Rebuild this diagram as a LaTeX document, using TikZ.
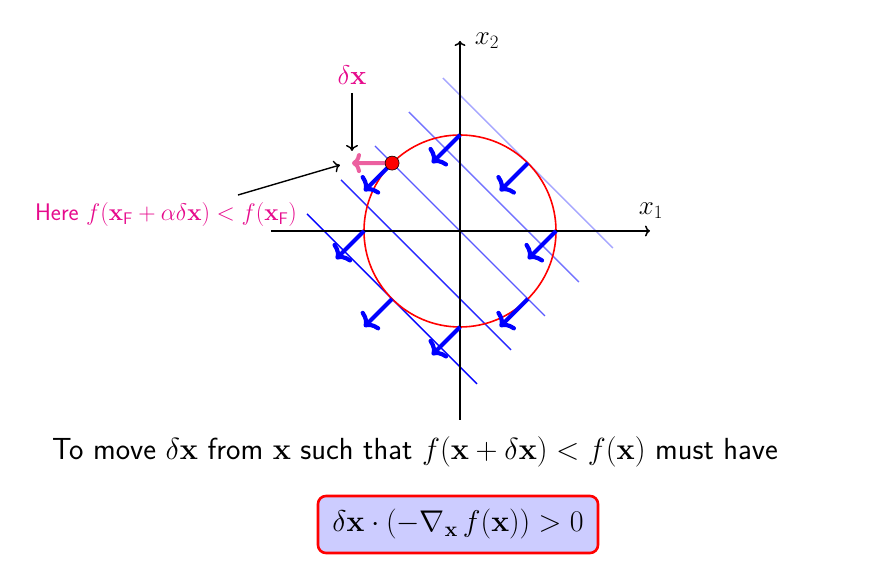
\RequirePackage{fix-cm}
\documentclass[tikz,border=0pt]{standalone}
\usepackage{amsmath}
\usetikzlibrary{arrows.meta,calc}
\definecolor{labmag}{RGB}{230,10,140}
\definecolor{dxpink}{RGB}{236,96,160}
\begin{document}
\begin{tikzpicture}[x=1pt,y=1pt,
  axisline/.style={line width=1.5pt,black,-{To[length=5pt,width=11pt]}},
  level/.style={line width=1.4pt},
  grad/.style={line width=4.2pt,blue,-{To[length=11pt,width=26pt]}},
  pointer/.style={line width=1.4pt,black,-{To[length=6pt,width=12pt]}},
  mainfont/.style={font=\fontsize{30.5}{36}\selectfont\sffamily},
  labfont/.style={font=\fontsize{24}{28}\selectfont\sffamily},
]
\useasboundingbox (-460,-333) rectangle (429,231);
% level lines
\foreach \i/\c/\col in {1/135.8/blue!35, 2/67.9/blue!55, 3/0/blue!65, 4/-67.9/blue!85, 5/-135.8/blue}{
  \coordinate (la\i) at ({\c/2-85},{\c/2+85});
  \coordinate (lb\i) at ({\c/2+85},{\c/2-85});
  \draw[level,\col] (la\i) -- (lb\i);
}
% circle
\node[circle,draw=red,line width=1.6pt,minimum size=192pt,inner sep=0pt] (circ) at (0,0) {};
% axes
\coordinate (xs) at (-189,0); \coordinate (xe) at (190,0);
\coordinate (ys) at (0,-189); \coordinate (ye) at (0,190);
\draw[axisline] (xs) -- (xe);
\draw[axisline] (ys) -- (ye);
\node[font=\fontsize{27}{32}\selectfont] (x1) at (191,20) {$x_1$};
\node[font=\fontsize{27}{32}\selectfont] (x2) at (27,190) {$x_2$};
% gradient arrows
\foreach \a in {0,45,...,315}{
  \coordinate (gs\a) at (\a:96);
  \coordinate (ge\a) at ($(gs\a)+(-28,-28)$);
}
\foreach \a in {0,45,...,315}{
  \draw[grad] (gs\a) -- (ge\a);
}
% delta x arrow
\coordinate (dxend) at (-108,67.9);
\draw[line width=4pt,dxpink,-{To[length=9pt,width=20pt]}] (gs135) -- (dxend);
\node[circle,fill=red,draw=black,line width=0.6pt,minimum size=14pt,inner sep=0pt] (pt) at (gs135) {};
% labels
\node[labmag,font=\fontsize{27}{32}\selectfont] (dxl) at (-108,156) {$\delta\mathbf{x}$};
\coordinate (dxstart) at (-108,138);
\coordinate (dxtip) at (-108,80);
\draw[pointer] (dxstart) -- (dxtip);
\node[labmag,labfont] (here) at (-294,16) {Here $f(\mathbf{x}_{\mathsf{F}}+\alpha\delta\mathbf{x})<f(\mathbf{x}_{\mathsf{F}})$};
\coordinate (hs) at (-222,36);
\coordinate (he) at (-120,66);
\draw[pointer] (hs) -- (he);
% bottom text
\node[mainfont] (txt) at (-45,-221) {To move $\delta\mathbf{x}$ from $\mathbf{x}$ such that $f(\mathbf{x}+\delta\mathbf{x})<f(\mathbf{x})$ must have};
\node[draw=red,line width=2.6pt,fill=blue!20,rounded corners=8pt,minimum width=280pt,minimum height=57pt,font=\fontsize{30}{36}\selectfont] (box) at (-2,-293.5) {$\delta\mathbf{x}\cdot(-\nabla_{\mathbf{x}}\,f(\mathbf{x}))>0$};
\end{tikzpicture}
\end{document}
